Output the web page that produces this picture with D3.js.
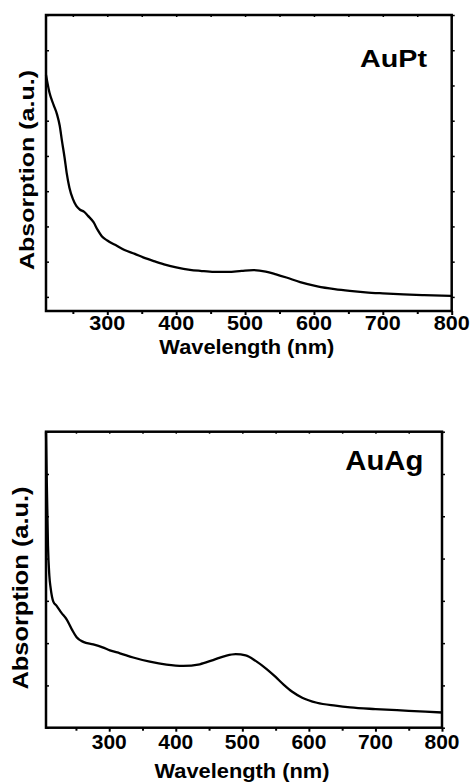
<!DOCTYPE html>
<html>
<head>
<meta charset="utf-8">
<script src="https://cdn.jsdelivr.net/npm/d3@7"></script>
<style>
  body { margin: 0; background: #fff; }
  svg text { font-family: "Liberation Sans", Arial, sans-serif; font-weight: bold; fill: #000; }
</style>
</head>
<body>
<svg id="chart" width="473" height="783"></svg>
<script>
// AuPt spectrum (wavelength nm, absorption a.u.)
const auptWave = [211, 216, 222, 227, 231, 234, 238, 241, 245, 250, 255, 260, 266, 272, 280, 286, 292, 300,
  312, 325, 340, 352, 370, 385, 400, 420, 435, 455, 475, 495, 512, 530, 545, 560, 580, 605, 630, 652, 675, 700, 730, 760, 800];
const auptAbs = [6.30, 5.80, 5.45, 5.18, 4.85, 4.45, 3.95, 3.52, 3.10, 2.78, 2.58, 2.48, 2.42, 2.30, 2.12, 1.90, 1.72, 1.60,
  1.47, 1.33, 1.22, 1.12, 1.00, 0.91, 0.84, 0.77, 0.74, 0.71, 0.71, 0.74, 0.76, 0.72, 0.64, 0.55, 0.42, 0.30, 0.22, 0.17, 0.13, 0.10, 0.07, 0.05, 0.03];

// AuAg spectrum
const auagWave = [205, 206, 208, 210, 212, 216, 221, 228, 236, 244, 251, 261, 276, 290, 301, 316, 336, 361, 386, 411,
  436, 456, 475, 490, 505, 520, 537, 550, 562, 575, 590, 612, 640, 662, 700, 750, 800];
const auagAbs = [7.0, 6.0, 4.3, 3.6, 3.3, 2.98, 2.88, 2.72, 2.56, 2.32, 2.14, 2.03, 1.97, 1.90, 1.83, 1.76, 1.66, 1.56, 1.49, 1.46,
  1.50, 1.60, 1.70, 1.74, 1.71, 1.58, 1.38, 1.20, 1.02, 0.85, 0.71, 0.59, 0.52, 0.48, 0.44, 0.40, 0.36];

const xMajor = [300, 400, 500, 600, 700, 800];
const xMinor = [250, 350, 450, 550, 650, 750];
const xTop = [250, 300, 350, 400, 450, 500, 550, 600, 650, 700, 750, 800];

const svg = d3.select('#chart');

function panel(opts) {
  const x = d3.scaleLinear().domain(opts.xDomain).range([opts.left, opts.right]);
  const y = d3.scaleLinear().domain(opts.yDomain).range([opts.bottom, opts.top]);
  const g = svg.append('g');

  // bottom axis ticks
  g.append('g')
    .attr('transform', `translate(0,${opts.bottom})`)
    .call(d3.axisBottom(x).tickValues(xMajor).tickFormat('').tickSizeInner(4).tickSizeOuter(0))
    .call(a => a.select('.domain').remove())
    .call(a => a.selectAll('line').attr('stroke-width', 2));

  g.append('g')
    .attr('transform', `translate(0,${opts.bottom})`)
    .call(d3.axisBottom(x).tickValues(xMinor).tickFormat('').tickSizeInner(3).tickSizeOuter(0))
    .call(a => a.select('.domain').remove())
    .call(a => a.selectAll('line').attr('stroke-width', 2));

  // tick labels
  g.append('g').selectAll('text')
    .data(xMajor)
    .join('text')
    .attr('x', d => x(d))
    .attr('y', opts.tickBase)
    .attr('text-anchor', 'middle')
    .attr('font-size', 20)
    .attr('textLength', opts.tickLen).attr('lengthAdjust', 'spacingAndGlyphs')
    .text(d => d);

  // top axis
  g.append('g')
    .attr('transform', `translate(0,${opts.top})`)
    .call(d3.axisTop(x).tickValues(xTop).tickFormat('').tickSizeInner(-2).tickSizeOuter(0))
    .call(a => a.select('.domain').remove())
    .call(a => a.selectAll('line').attr('stroke-width', 1.5));

  const yt = d3.range(opts.yTicks[0], opts.yTicks[1] + 1);
  g.append('g')
    .attr('transform', `translate(${opts.left},0)`)
    .call(d3.axisLeft(y).tickValues(yt).tickFormat('').tickSizeInner(-3).tickSizeOuter(0))
    .call(a => a.select('.domain').remove())
    .call(a => a.selectAll('line').attr('stroke-width', 1.5));

  g.append('g')
    .attr('transform', `translate(${opts.right},0)`)
    .call(d3.axisRight(y).tickValues(yt).tickFormat('').tickSizeInner(3).tickSizeOuter(0))
    .call(a => a.select('.domain').remove())
    .call(a => a.selectAll('line').attr('stroke-width', 1.5));

  // curve
  const pts = opts.wave.map((w, i) => [w, opts.abs[i]]);
  g.append('path')
    .datum(pts)
    .attr('fill', 'none')
    .attr('stroke', '#000')
    .attr('stroke-width', 2.3)
    .attr('d', d3.line().x(d => x(d[0])).y(d => y(d[1])).curve(d3.curveMonotoneX));

  // frame
  g.append('rect')
    .attr('x', opts.left).attr('y', opts.top)
    .attr('width', opts.right - opts.left).attr('height', opts.bottom - opts.top)
    .attr('fill', 'none').attr('stroke', '#000').attr('stroke-width', 2.5);

  // labels
  g.append('text')
    .attr('x', (opts.left + opts.right) / 2 - 2).attr('y', opts.xTitleY)
    .attr('text-anchor', 'middle').attr('font-size', 20)
    .attr('textLength', 175).attr('lengthAdjust', 'spacingAndGlyphs')
    .text('Wavelength (nm)');

  g.append('text')
    .attr('transform', `translate(${opts.yTitleX},${opts.yTitleCY}) rotate(-90)`)
    .attr('text-anchor', 'middle').attr('font-size', opts.yTitleSize)
    .attr('textLength', opts.yTitleLen).attr('lengthAdjust', 'spacingAndGlyphs')
    .text('Absorption (a.u.)');

  g.append('text')
    .attr('x', opts.nameX).attr('y', opts.nameY)
    .attr('text-anchor', 'end').attr('font-size', opts.nameSize)
    .attr('textLength', opts.nameLen).attr('lengthAdjust', 'spacingAndGlyphs')
    .text(opts.name);
}

panel({
  wave: auptWave, abs: auptAbs, name: 'AuPt',
  xDomain: [211, 800], yDomain: [-0.4, 8], yTicks: [0, 8],
  left: 46, right: 451.7, top: 15, bottom: 311, tickBase: 329.5, tickLen: 36,
  xTitleY: 354, yTitleX: 34, yTitleCY: 170, yTitleSize: 20, yTitleLen: 200,
  nameX: 427, nameY: 66.5, nameSize: 24, nameLen: 67
});

panel({
  wave: auagWave, abs: auagAbs, name: 'AuAg',
  xDomain: [205, 800], yDomain: [0, 7], yTicks: [0, 7],
  left: 46, right: 442, top: 431.7, bottom: 727.7, tickBase: 748.5, tickLen: 35,
  xTitleY: 778.3, yTitleX: 28, yTitleCY: 588, yTitleSize: 22, yTitleLen: 203,
  nameX: 423.3, nameY: 470, nameSize: 27, nameLen: 78
});
</script>
</body>
</html>
